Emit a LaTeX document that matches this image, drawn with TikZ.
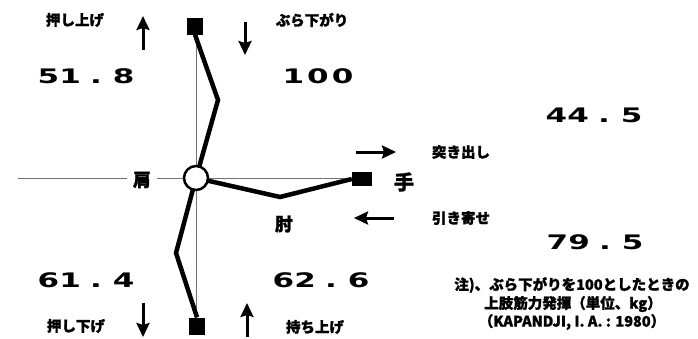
\documentclass[tikz,border=0pt]{standalone}
\usepackage{fontspec}
\newfontfamily\jp{Noto Sans CJK JP}[BoldFeatures={FakeBold=1.3}]
\newfontfamily\numf{DejaVu Sans}
\usetikzlibrary{arrows.meta}
\newcommand{\num}[3]{\scalebox{1.55}[1]{\numf\bfseries #1\kern6pt.\kern7pt#3}}
\begin{document}
\begin{tikzpicture}[x=1pt,y=-1pt,
  thin line/.style={draw=black!55,line width=0.8pt},
  arm/.style={line width=4.5pt,line join=miter},
  jlabel/.style={font=\jp\bfseries\fontsize{14.5}{16}\selectfont,inner sep=0pt},
  blabel/.style={font=\jp\bfseries\fontsize{18}{20}\selectfont,inner sep=0pt},
  nlabel/.style={inner sep=0pt,font=\fontsize{20}{22}\selectfont},
  notelabel/.style={inner sep=0pt,font=\jp\bfseries\fontsize{14.5}{16}\selectfont},
  force/.style={-{Stealth[length=14pt,width=13pt,inset=2pt]},line width=3pt},
  sq/.style={fill=black,minimum width=16pt,minimum height=17pt,inner sep=0pt},
]
\useasboundingbox[fill=white] (0,0) rectangle (698,338);
% thin reference lines
\coordinate (vt) at (196,20);
\coordinate (vb) at (196,332);
\draw[thin line] (vt) -- (vb);
\coordinate (hl) at (18,178);
\coordinate (hm1) at (127,178);
\coordinate (hm2) at (157,178);
\coordinate (hr) at (355,178);
\node[blabel] (shoulder) at (142,180) {肩};
\draw[thin line] (hl) -- (hm1);
\draw[thin line] (hm2) -- (hr);
% squares
\node[sq] (top) at (195,26) {};
\node[sq] (bot) at (197,326) {};
\node[sq,minimum width=20pt,minimum height=14pt] (hand) at (362,179) {};
\coordinate (ue) at (218,100);
\coordinate (le) at (176,253);
\coordinate (elb) at (280,197);
\coordinate (sc) at (196,178);
\draw[arm] (top.south) -- (ue) -- (sc);
\draw[arm] (sc) -- (le) -- (bot.north);
\draw[arm] (sc) -- (elb) -- (hand.west);
\node[circle,draw,line width=2.5pt,fill=white,minimum width=24pt,inner sep=0pt] (sh) at (sc) {};
% labels
\node[blabel,font=\jp\bfseries\fontsize{20}{22}\selectfont] (hte) at (404,182) {手};
\node[blabel] (elbl) at (284,224) {肘};
\node[jlabel] (pu) at (75,20) {押し上げ};
\node[jlabel] (hang) at (312,20) {ぶら下がり};
\node[jlabel] (pd) at (76,326) {押し下げ};
\node[jlabel] (lift) at (315,327) {持ち上げ};
\node[jlabel] (push) at (461,152) {突き出し};
\node[jlabel] (pull) at (461,218) {引き寄せ};
% arrows
\coordinate (a1s) at (143,50); \coordinate (a1e) at (143,16);
\draw[force] (a1s) -- (a1e);
\coordinate (a2s) at (245,22); \coordinate (a2e) at (245,55);
\draw[force] (a2s) -- (a2e);
\coordinate (a3s) at (143,303); \coordinate (a3e) at (143,337);
\draw[force] (a3s) -- (a3e);
\coordinate (a4s) at (247,337); \coordinate (a4e) at (247,303);
\draw[force] (a4s) -- (a4e);
\coordinate (a5s) at (356,152); \coordinate (a5e) at (396,152);
\draw[force] (a5s) -- (a5e);
\coordinate (a6s) at (394,218); \coordinate (a6e) at (354,218);
\draw[force] (a6s) -- (a6e);
% numbers
\node[nlabel] (n1) at (86,76) {\num{51}{.}{8}};
\node[nlabel] (n2) at (318,76) {\scalebox{1.55}[1]{\numf\bfseries 1\kern2pt0\kern2pt0}};
\node[nlabel] (n3) at (594,115) {\num{44}{.}{5}};
\node[nlabel] (n4) at (595,242) {\num{79}{.}{5}};
\node[nlabel] (n5) at (86,280) {\num{61}{.}{4}};
\node[nlabel] (n6) at (321,280) {\num{62}{.}{6}};
% note
\node[notelabel] (note1) at (572,285) {注)、ぶら下がりを100としたときの};
\node[notelabel] (note2) at (573,304) {上肢筋力発揮（単位、kg）};
\node[notelabel] (note3) at (572,322) {（KAPANDJI, I. A. : 1980）};
\end{tikzpicture}
\end{document}
